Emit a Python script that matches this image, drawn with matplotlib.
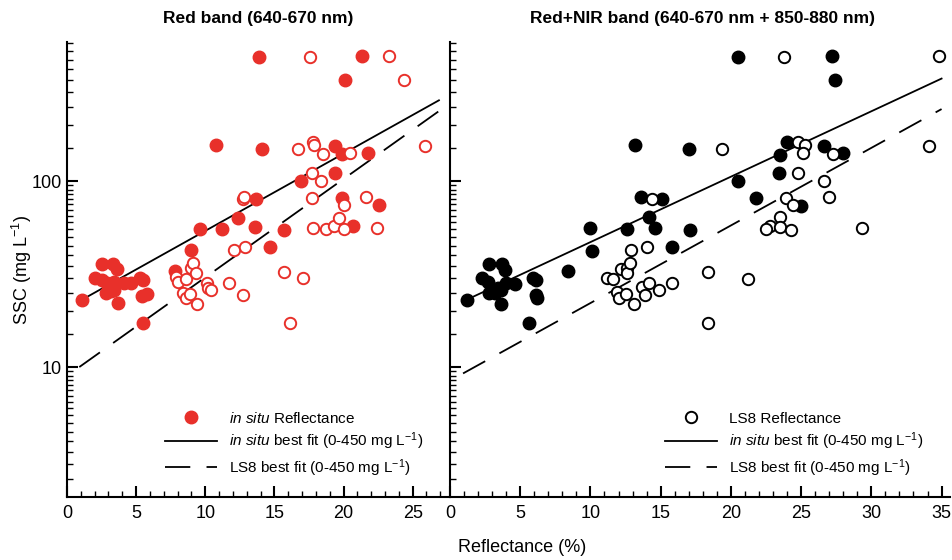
import matplotlib
matplotlib.use("Agg")
import matplotlib.pyplot as plt
from matplotlib.ticker import FixedLocator, NullFormatter
from matplotlib.lines import Line2D
import numpy as np

plt.rcParams["font.family"] = ["Liberation Sans", "DejaVu Sans"]
plt.rcParams["mathtext.fontset"] = "custom"
plt.rcParams["mathtext.rm"] = "Liberation Sans"
plt.rcParams["mathtext.it"] = "Liberation Sans:italic"

RED = "#e8302a"

# ---- data ----
# Red band, in situ reflectance (filled red)
red_insitu_x = [1.1, 2.0, 2.5, 2.5, 2.8, 2.9, 3.3, 3.4, 3.4, 3.6, 3.2, 3.7, 4.1, 4.6, 5.3, 5.5, 5.4, 5.8, 5.5,
                7.8, 9.0, 9.6, 10.8, 11.2, 12.4, 13.6, 13.7, 13.9, 14.1, 14.7, 15.7, 16.9, 19.4, 19.4,
                19.9, 19.9, 20.1, 20.7, 21.3, 21.8, 22.6]
red_insitu_y = [23, 30.2, 36, 29.5, 25, 28.2, 36, 28.7, 26, 33.5, 25.5, 22, 28.2, 28.2, 30, 29.5, 24, 24.6, 17.2,
                33, 42.6, 55.6, 157, 55, 63.5, 56.3, 80, 466, 148.6, 44.3, 54.5, 100, 111, 155,
                140, 81, 349, 57.3, 470, 142, 74.3]

# Red band, LS8 reflectance (open red)
red_ls8_x = [7.9, 8.0, 8.6, 8.4, 8.6, 8.9, 9.0, 9.1, 9.3, 9.4, 10.1, 10.2, 10.4, 11.7, 12.1, 12.7, 12.7, 12.8,
             12.9, 15.7, 16.1, 16.7, 17.1, 17.6, 17.7, 17.7, 17.8, 17.8, 17.9, 18.4, 18.5, 18.7, 19.3, 19.7,
             20.0, 20.0, 20.5, 21.6, 22.4, 23.3, 24.4, 25.9]
red_ls8_y = [30.6, 28.5, 29.8, 24.9, 23.4, 24.7, 34, 36.4, 32.2, 21.8, 28.2, 26.5, 26, 28.4, 42.6, 24.4, 80, 82,
             44.3, 32.6, 17.2, 148, 30, 466, 111, 81, 56, 162, 157, 100, 140, 55, 57.3, 63.7,
             74, 55, 141, 82, 55.7, 470, 349, 155]

# Red+NIR band, in situ reflectance (filled black)
nir_insitu_x = [1.2, 2.3, 2.8, 2.7, 2.8, 3.2, 3.7, 3.9, 3.6, 4.0, 4.6, 3.6, 3.4, 5.9, 6.1, 6.1, 6.2, 5.6,
                8.4, 10.1, 10.0, 12.6, 13.2, 13.6, 14.2, 14.6, 15.1, 15.8, 17.0, 17.1, 20.5, 20.5, 21.8,
                23.4, 23.5, 24.0, 25.0, 26.6, 27.2, 27.4, 28.0]
nir_insitu_y = [22.9, 30.2, 36, 28.7, 25.1, 24.9, 36, 33.3, 26, 28.2, 27.8, 21.8, 26.5, 30, 29.5, 24.4, 23.5, 17.2,
                32.8, 42.2, 55.7, 55, 156, 82, 64, 56, 80, 44, 148, 54.5, 100, 466, 81,
                110, 139, 162, 73.7, 155, 470, 349, 141]

# Red+NIR band, LS8 reflectance (open black)
nir_ls8_x = [11.2, 11.6, 11.9, 12.0, 12.5, 13.1, 12.2, 12.6, 12.6, 12.8, 12.9, 13.7, 14.2, 13.9, 14.9, 15.8,
             14.0, 14.4, 18.4, 18.4, 19.4, 21.2, 23.8, 24.8, 25.3, 25.1, 27.3, 24.8, 26.6, 23.9, 27.0,
             24.4, 23.5, 22.8, 22.5, 23.5, 24.3, 29.3, 34.8, 34.1]
nir_ls8_y = [30.2, 29.8, 25.2, 23.4, 24.7, 21.8, 33.5, 34, 31.9, 36.4, 42.6, 27, 28.2, 24.4, 25.9, 28.4,
             44.3, 80, 32.6, 17.2, 148, 29.6, 466, 163, 156, 141, 140, 111, 100, 81, 82,
             74, 64, 57.3, 55, 56.3, 54.5, 55.7, 470, 155]

# best-fit lines (end points)
red_fit_insitu_x, red_fit_insitu_y = [0.94, 26.9], [22.7, 272]
red_fit_ls8_x, red_fit_ls8_y = [0.89, 26.9], [10.0, 238]
nir_fit_insitu_x, nir_fit_insitu_y = [1.55, 35.0], [23.7, 356]
nir_fit_ls8_x, nir_fit_ls8_y = [0.93, 35.0], [9.24, 244]

titles = ["Red band (640-670 nm)", "Red+NIR band (640-670 nm + 850-880 nm)"]

fig = plt.figure(figsize=(9.53, 5.6), dpi=100)
ax1 = fig.add_axes([67 / 953, 1 - 497 / 560, 383 / 953, 455 / 560])
ax2 = fig.add_axes([450 / 953, 1 - 497 / 560, 500 / 953, 455 / 560])

DASH = (14, 9)
MS = 9.0


def style_axis(ax, xmax):
    ax.set_yscale("log")
    ax.set_ylim(2, 560)
    ax.set_xlim(0, xmax)
    for s in ["top", "right"]:
        ax.spines[s].set_visible(False)
    for s in ["left", "bottom"]:
        ax.spines[s].set_linewidth(1.5)
    ax.yaxis.set_major_locator(FixedLocator([10, 100]))
    ax.yaxis.set_minor_locator(FixedLocator(list(np.arange(2.5, 10, 0.5)) + list(np.arange(15, 100, 5))
                                            + list(np.arange(150, 560, 50))))
    ax.yaxis.set_minor_formatter(NullFormatter())
    ax.xaxis.set_major_locator(FixedLocator(np.arange(0, xmax, 5)))
    ax.xaxis.set_minor_locator(FixedLocator(np.arange(0, xmax, 1)))
    ax.tick_params(which="major", direction="in", length=8, width=1.5, labelsize=13)
    ax.tick_params(which="minor", direction="in", length=4.5, width=1.0)
    ax.tick_params(axis="x", which="major", pad=6)


style_axis(ax1, 27.7)
style_axis(ax2, 35.6)
ax1.set_yticklabels(["10", "100"])
ax2.set_yticklabels([])

# left panel
ax1.plot(red_insitu_x, red_insitu_y, "o", color=RED, ms=MS, mec=RED, zorder=3)
ax1.plot(red_ls8_x, red_ls8_y, "o", mfc="white", mec=RED, ms=MS - 0.8, mew=1.4, zorder=3)
ax1.plot(red_fit_insitu_x, red_fit_insitu_y, color="black", lw=1.3)
ax1.plot(red_fit_ls8_x, red_fit_ls8_y, color="black", lw=1.3, dashes=DASH)

# right panel
ax2.plot(nir_insitu_x, nir_insitu_y, "o", color="black", ms=MS, zorder=3)
ax2.plot(nir_ls8_x, nir_ls8_y, "o", mfc="white", mec="black", ms=MS - 0.8, mew=1.4, zorder=3)
ax2.plot(nir_fit_insitu_x, nir_fit_insitu_y, color="black", lw=1.3)
ax2.plot(nir_fit_ls8_x, nir_fit_ls8_y, color="black", lw=1.3, dashes=DASH)

lab_fit1 = r"$\mathit{in\ situ}$ best fit (0-450 mg L$^{\mathregular{-1}}$)"
lab_fit2 = r"LS8 best fit (0-450 mg L$^{\mathregular{-1}}$)"
h_line = Line2D([], [], color="black", lw=1.3)
h_dash = Line2D([], [], color="black", lw=1.3, dashes=DASH)

h_red = Line2D([], [], marker="o", ls="none", color=RED, ms=MS)
ax1.legend([h_red, h_line, h_dash], [r"$\mathit{in\ situ}$ Reflectance", lab_fit1, lab_fit2],
           loc="lower left", bbox_to_anchor=(0.256, 0.04), frameon=False, fontsize=11,
           handlelength=3.4, handletextpad=0.8, labelspacing=0.32, borderpad=0, borderaxespad=0)

h_open = Line2D([], [], marker="o", ls="none", mfc="white", mec="black", ms=MS - 0.8, mew=1.4)
ax2.legend([h_open, h_line, h_dash], ["LS8 Reflectance", lab_fit1, lab_fit2],
           loc="lower left", bbox_to_anchor=(0.43, 0.04), frameon=False, fontsize=11,
           handlelength=3.4, handletextpad=0.8, labelspacing=0.32, borderpad=0, borderaxespad=0)

fig.text(258 / 953, 1 - 18 / 560, titles[0], ha="center", va="center", fontsize=12.5, fontweight="bold")
fig.text(703 / 953, 1 - 18 / 560, titles[1], ha="center", va="center", fontsize=12.5, fontweight="bold")
fig.text(522 / 953, 1 - 548 / 560, "Reflectance (%)", ha="center", va="center", fontsize=13)
fig.text(22 / 953, 1 - 270 / 560, r"SSC (mg L$^{\mathregular{-1}}$)", ha="center", va="center",
         rotation=90, fontsize=13)

fig.savefig("out.png", dpi=100)
